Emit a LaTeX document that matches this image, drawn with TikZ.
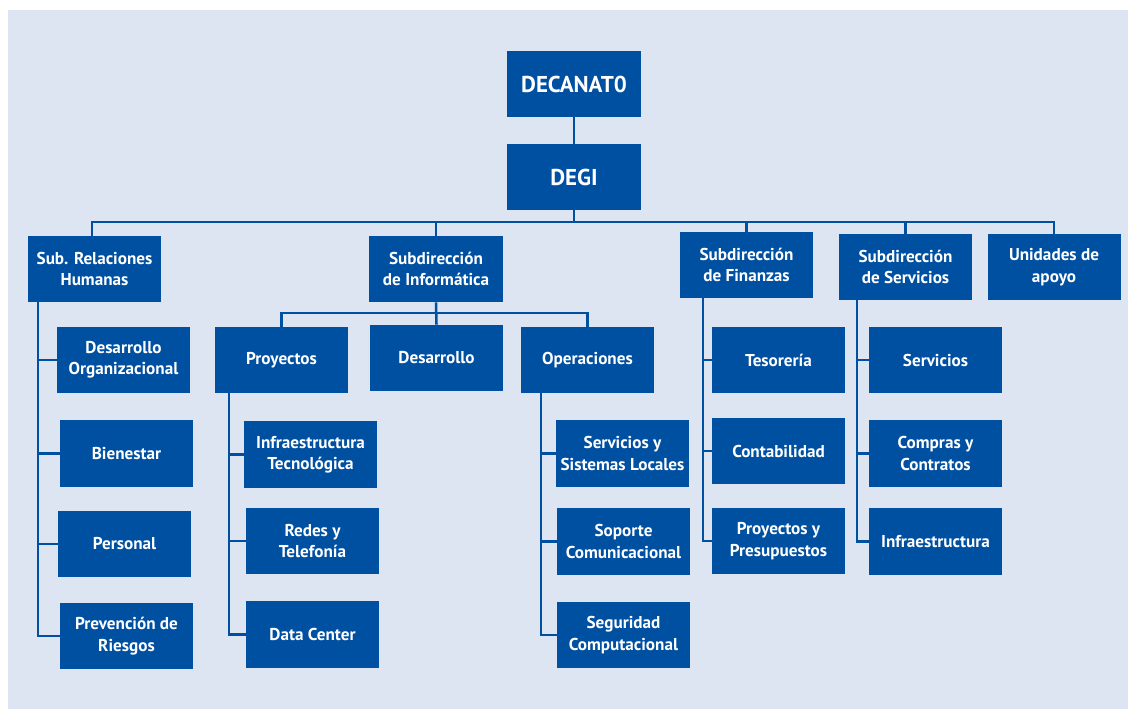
\documentclass[tikz,border=0pt]{standalone}
\usepackage{fontspec}
\setmainfont{PT Sans}
\definecolor{orgblue}{HTML}{0050A2}
\definecolor{bgblue}{HTML}{DCE5F1}
\tikzset{
  unit/.style={fill=orgblue, text=white, align=center, inner sep=0pt,
    minimum width=3.325cm, minimum height=1.65cm,
    font=\bfseries\fontsize{12.2}{15.2}\selectfont},
  topunit/.style={unit, font=\bfseries\fontsize{16.3}{18}\selectfont},
  link/.style={draw=orgblue, line width=1.8pt}
}

\begin{document}
\begin{tikzpicture}[x=0.025cm, y=-0.025cm]
        \useasboundingbox (0,0) rectangle (1128,709);
        \fill[bgblue] (8,10) rectangle (1128,709);

        % top
        \node[topunit] (decanato) at (574,84) {DECANAT0};
        \node[topunit] (degi) at (574,177) {DEGI};

        % subdirecciones
        \node[unit] (relhum) at (94.5,269) {Sub. Relaciones\\Humanas};
        \node[unit] (inform) at (436,269) {Subdirección\\de Informática};
        \node[unit] (finan) at (746.5,265) {Subdirección\\de Finanzas};
        \node[unit] (servi) at (905.5,267) {Subdirección\\de Servicios};
        \node[unit] (apoyo) at (1054,267) {Unidades de\\apoyo};

        % relaciones humanas
        \node[unit] (desorg) at (123.5,360) {Desarrollo\\Organizacional};
        \node[unit] (bienestar) at (126.5,453.5) {Bienestar};
        \node[unit] (personal) at (124.5,544) {Personal};
        \node[unit] (riesgos) at (126.5,636) {Prevención de\\Riesgos};

        % informatica
        \node[unit] (proy) at (281.5,360) {Proyectos};
        \node[unit] (desarr) at (436.5,358) {Desarrollo};
        \node[unit] (oper) at (587.5,360) {Operaciones};
        \node[unit] (infratec) at (310.5,454.5) {Infraestructura\\Tecnológica};
        \node[unit] (redes) at (312.5,541) {Redes y\\Telefonía};
        \node[unit] (datacen) at (312.5,634.5) {Data Center};
        \node[unit] (sistloc) at (622.5,453.5) {Servicios y\\Sistemas Locales};
        \node[unit] (soporte) at (623.5,541.5) {Soporte\\Comunicacional};
        \node[unit] (segur) at (623.5,635) {Seguridad\\Computacional};

        % finanzas
        \node[unit] (tesor) at (778.5,360) {Tesorería};
        \node[unit] (contab) at (778.5,451) {Contabilidad};
        \node[unit] (presup) at (778.5,541) {Proyectos y\\Presupuestos};

        % servicios
        \node[unit] (servs) at (935.5,360) {Servicios};
        \node[unit] (compras) at (935.5,453.5) {Compras y\\Contratos};
        \node[unit] (infra) at (935.5,541.5) {Infraestructura};

        % lines
        \coordinate (bus) at (574,222);
        \coordinate (ibus) at (436,313);
        \draw[link] (decanato) -- (degi);
        \draw[link] (degi.south) -- (bus);
        \draw[link] (relhum.north -| 92,0) |- (bus) -| (apoyo.north);
        \foreach \h in {inform,finan,servi}
                \draw[link] (\h.north) -- (\h.north |- bus);
        \draw[link] (proy.north) |- (ibus) -| (oper.north);
        \draw[link] (inform.south) -- (desarr.north);

        \foreach \p/\s/\kids in {relhum/38/{desorg,bienestar,personal,riesgos},
                        proy/229/{infratec,redes,datacen},
                        oper/541/{sistloc,soporte,segur},
                        finan/703/{tesor,contab,presup},
                        servi/857/{servs,compras,infra}}{
                \coordinate (sx) at (\s,0);
                \foreach \k in \kids
                        \draw[link] (\p.south -| sx) |- (\k.west);
        }
\end{tikzpicture}
\end{document}
